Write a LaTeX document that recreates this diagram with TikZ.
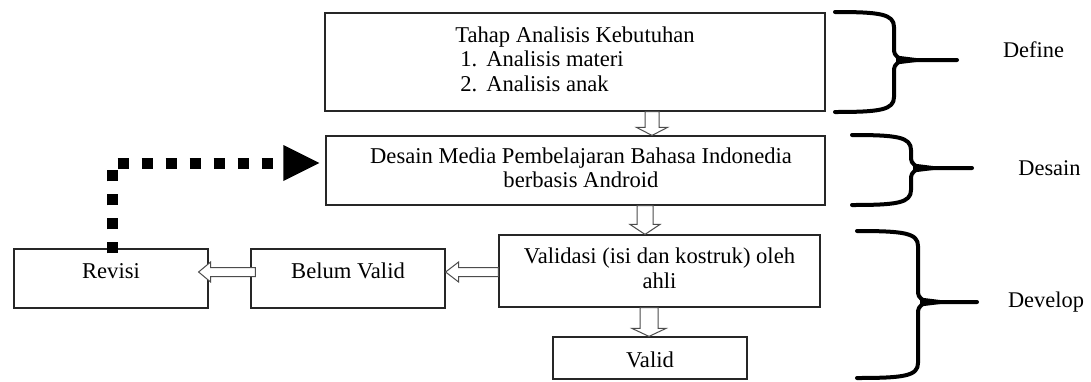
\documentclass[tikz,border=0pt]{standalone}
\usepackage{fontspec}
\setmainfont{Liberation Serif}
\usetikzlibrary{arrows.meta,calc}
\tikzset{
  box/.style={draw=black!85, line width=1.2pt, rectangle, inner sep=0pt, font=\fontsize{22.6}{24.5}\selectfont},
  hollow/.style={draw=black!70, line width=1pt, fill=white, line join=miter},
  dotconn/.style={line width=11pt, dash pattern=on 11pt off 13pt, shorten >=6pt, -{Triangle[length=36pt,width=36pt,line width=0pt]}},
  brc/.style={line width=4pt, line cap=round, line join=round},
  lbl/.style={font=\fontsize{22.4}{24.5}\selectfont, inner sep=0pt, anchor=base},
}
% hollow block arrow pointing down: #1 start, #2 tip, #3 shaft half width, #4 head half width, #5 head length
\newcommand{\hdown}[5]{%
  \draw[hollow] ($#1+(-#3,0)$) -- ($#2+(-#3,-#5)$) -- ($#2+(-#4,-#5)$) -- #2 -- ($#2+(#4,-#5)$) -- ($#2+(#3,-#5)$) -- ($#1+(#3,0)$) -- cycle;}
% hollow block arrow pointing left
\newcommand{\hleft}[5]{%
  \draw[hollow] ($#1+(0,-#3)$) -- ($#2+(#5,-#3)$) -- ($#2+(#5,-#4)$) -- #2 -- ($#2+(#5,#4)$) -- ($#2+(#5,#3)$) -- ($#1+(0,#3)$) -- cycle;}
% curly brace: #1 left x, #2 spine x, #3 tip x, #4 top y, #5 middle y, #6 bottom y
\newcommand{\tbrace}[6]{%
  \draw[brc] (#1,#4) .. controls ({#2-14},#4) and (#2,{#4+2}) .. (#2,{#4+15}) -- (#2,{#5-11}) .. controls (#2,{#5-3}) and ({#2+5},#5) .. ({#2+16},#5) -- (#3,#5);
  \draw[brc] ({#2+16},#5) .. controls ({#2+5},#5) and (#2,{#5+3}) .. (#2,{#5+11}) -- (#2,{#6-15}) .. controls (#2,{#6-2}) and ({#2-14},#6) .. (#1,#6);
  \fill ({#2+2},{#5-4.5}) -- ({#2+26},{#5-1.5}) -- ({#2+26},{#5+1.5}) -- ({#2+2},{#5+4.5}) -- cycle;}
\begin{document}
\begin{tikzpicture}[x=1pt,y=-1pt]
\fill[white] (0,0) rectangle (1091,381);
\useasboundingbox (0,0) rectangle (1091,381);

\node[box, minimum width=500pt, minimum height=98pt] (ana) at (575,62)
  {\begin{tabular}{@{}l@{}}Tahap Analisis Kebutuhan\\
   \hspace*{5pt}\makebox[26pt][l]{1.}Analisis materi\\
   \hspace*{5pt}\makebox[26pt][l]{2.}Analisis anak\end{tabular}};
\node[box, minimum width=499pt, minimum height=69pt] (des) at (575.5,170.5)
  {\hspace*{5.5pt}\begin{tabular}{@{}c@{}}Desain Media Pembelajaran Bahasa Indonedia\\berbasis Android\end{tabular}\hspace*{-5.5pt}};
\node[box, minimum width=321pt, minimum height=72pt] (val) at (659.5,271)
  {\begin{tabular}{@{}c@{}}Validasi (isi dan kostruk) oleh\\ahli\end{tabular}};
\node[box, minimum width=194pt, minimum height=59pt] (rev) at (111,278.5) {\smash{Revisi}};
\node[box, minimum width=194pt, minimum height=59pt] (bel) at (348,278.5) {\smash{Belum Valid}};
\node[box, minimum width=194pt, minimum height=42pt] (vld) at (650,358) {\smash{\raisebox{-9pt}{Valid}}};

\node[lbl] (ldef) at (1033.5,57) {Define};
\node[lbl] (ldes) at (1049.5,175) {Desain};
\node[lbl] (ldev) at (1046,307) {Develop};

\coordinate (x1) at (652,0);
\coordinate (x2) at (645,0);
\coordinate (x3) at (649,0);
\coordinate (y4) at (0,272);
\coordinate (a4s) at ($(y4 -| bel.west)+(5,0)$);
\coordinate (a4t) at ($(y4 -| rev.east)+(-10,0)$);

\hdown{(x1 |- ana.south)}{(x1 |- des.north)}{7}{15.5}{8}
\hdown{(x2 |- des.south)}{(x2 |- val.north)}{8}{15}{10}
\hdown{(x3 |- val.south)}{(x3 |- vld.north)}{9}{17}{8}
\hleft{(y4 -| val.west)}{(y4 -| bel.east)}{4.5}{10}{13}
\hleft{(a4s)}{(a4t)}{4.5}{10}{12}

\draw[dotconn] ([yshift=-5pt,xshift=1pt]rev.north) |- ([yshift=7.5pt]des.west);

\tbrace{835}{894}{957}{12}{60}{112}
\tbrace{852}{911}{972}{135}{168}{205}
\tbrace{857}{918}{977}{231}{302}{378}
\end{tikzpicture}
\end{document}
